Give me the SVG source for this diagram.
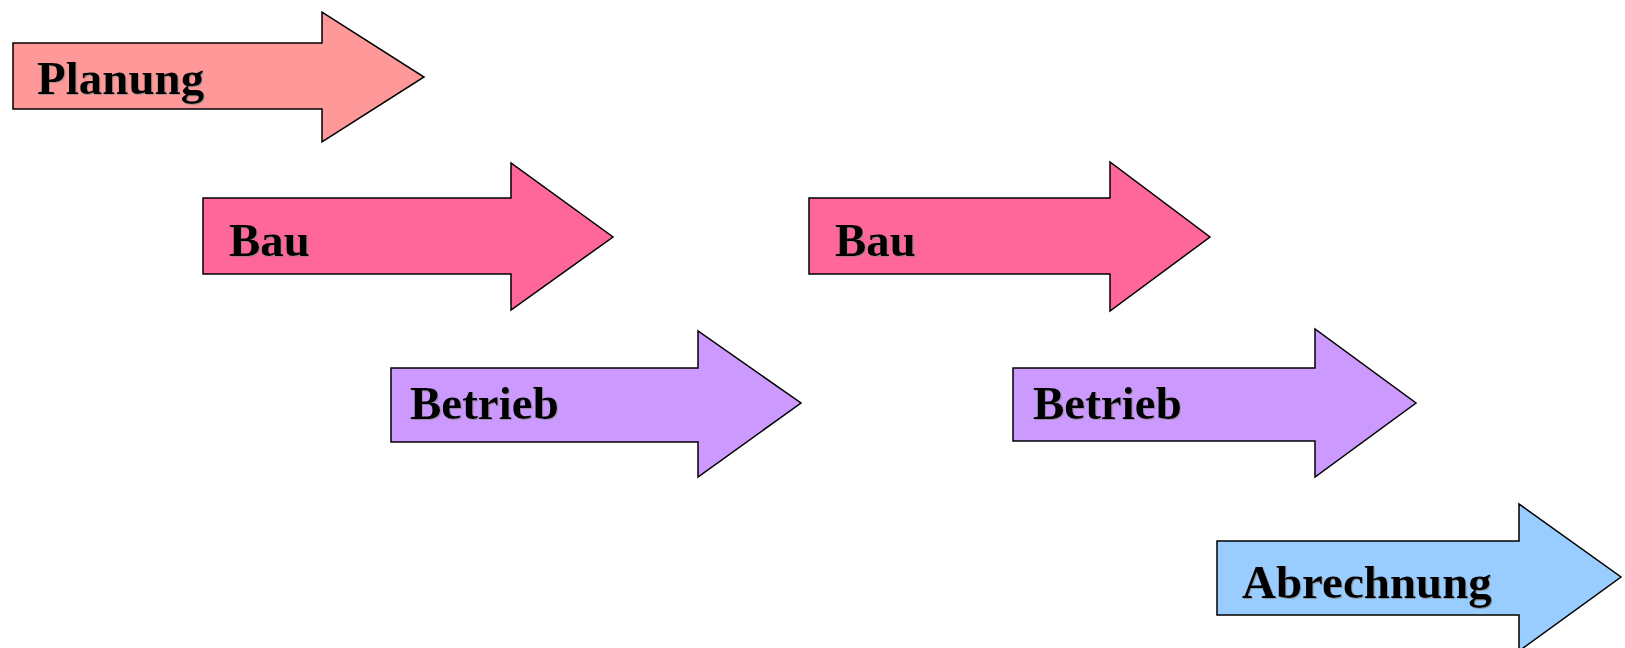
<svg xmlns="http://www.w3.org/2000/svg" width="1625" height="648" viewBox="0 0 1625 648">
  <defs>
    <filter id="soft" x="-5%" y="-20%" width="110%" height="140%">
      <feDropShadow dx="1" dy="1" stdDeviation="0.4" flood-color="#888888" flood-opacity="0.7"/>
    </filter>
  </defs>
  <style>
    .arrow { stroke: #000000; stroke-width: 1.5; stroke-linejoin: miter; }
    .planung { fill: #FF9999; }
    .bau { fill: #FF6699; }
    .betrieb { fill: #CC99FF; }
    .abrechnung { fill: #99CCFF; }
    .label { font-family: "Liberation Serif", "Times New Roman", serif; font-weight: bold; font-size: 47px; fill: #000000; filter: url(#soft); }
  </style>
  <rect width="1625" height="648" fill="#ffffff"/>

  <!-- Block arrows: shaft rectangle plus triangular head -->
  <g id="planung">
    <polygon class="arrow planung" points="13,43 322,43 322,12 424,77 322,142 322,109 13,109"/>
    <text class="label" x="37" y="94">Planung</text>
  </g>

  <g id="bau-1">
    <polygon class="arrow bau" points="203,198 511,198 511,163 613,237 511,310 511,274 203,274"/>
    <text class="label" x="229" y="256">Bau</text>
  </g>

  <g id="betrieb-1">
    <polygon class="arrow betrieb" points="391,368 698,368 698,331 801,403 698,477 698,442 391,442"/>
    <text class="label" x="410" y="419">Betrieb</text>
  </g>

  <g id="bau-2">
    <polygon class="arrow bau" points="809,198 1110,198 1110,162 1210,237 1110,311 1110,274 809,274"/>
    <text class="label" x="835" y="256">Bau</text>
  </g>

  <g id="betrieb-2">
    <polygon class="arrow betrieb" points="1013,368 1315,368 1315,329 1416,403 1315,477 1315,441 1013,441"/>
    <text class="label" x="1033" y="419">Betrieb</text>
  </g>

  <g id="abrechnung">
    <polygon class="arrow abrechnung" points="1217,541 1519,541 1519,504 1621,577 1519,651 1519,615 1217,615"/>
    <text class="label" x="1242" y="598">Abrechnung</text>
  </g>

  <g id="connectors"></g>
</svg>
